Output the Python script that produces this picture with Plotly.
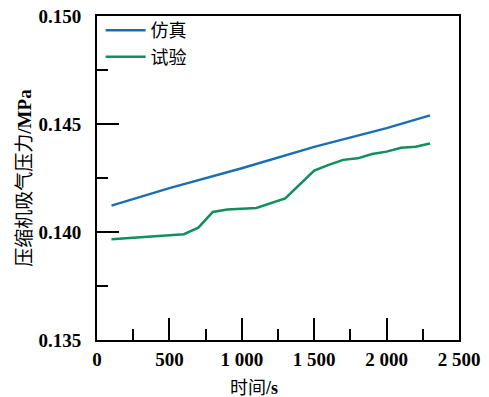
import plotly.graph_objects as go

sim_t = [100, 500, 1000, 1500, 2000, 2300]
sim_p = [0.14122, 0.14203, 0.14295, 0.14394, 0.14481, 0.14540]

exp_t = [100, 600, 700, 800, 900, 1100, 1300, 1500, 1600, 1700, 1800, 1900, 2000, 2100, 2200, 2300]
exp_p = [0.13967, 0.13990, 0.14020, 0.14093, 0.14104, 0.14111, 0.14155, 0.14284, 0.14311, 0.14334,
         0.14341, 0.14361, 0.14372, 0.14390, 0.14395, 0.14410]

x_ticks = [0, 500, 1000, 1500, 2000, 2500]
y_ticks = [0.135, 0.140, 0.145, 0.150]

serif = "Liberation Serif, Times New Roman, Noto Sans CJK SC, serif"
cjk = "Liberation Serif, Noto Sans CJK SC, serif"

fig = go.Figure()
fig.add_trace(go.Scatter(x=sim_t, y=sim_p, mode="lines", name="仿真",
                         line=dict(color="#1a6fb4", width=2.5)))
fig.add_trace(go.Scatter(x=exp_t, y=exp_p, mode="lines", name="试验",
                         line=dict(color="#0e8f5c", width=2.5)))

axis_common = dict(showgrid=False, zeroline=False, showline=True, linecolor="black",
                   linewidth=2, mirror=True, ticks="inside", tickwidth=2, automargin=False,
                   tickcolor="black", tickfont=dict(family=serif, size=19, color="black", weight="bold"))

fig.update_xaxes(range=[0, 2500], tickvals=x_ticks, tickformat=",d", ticklen=22,
                 ticklabelstandoff=1,
                 minor=dict(dtick=250, tick0=0, ticklen=11, tickwidth=2, tickcolor="black", ticks="inside"),
                 **axis_common)
fig.update_yaxes(range=[0.135, 0.150], tickvals=y_ticks, tickformat=".3f", ticklen=22,
                 ticklabelstandoff=10,
                 minor=dict(dtick=0.0025, tick0=0.135, ticklen=11, tickwidth=2, tickcolor="black", ticks="inside"),
                 title=dict(text="压缩机吸气压力<b>/MPa</b>", font=dict(family=cjk, size=19, color="black"), standoff=2),
                 **axis_common)

fig.add_annotation(text="时间<b>/s</b>", xref="paper", yref="paper", x=0.434, y=-0.147,
                   xanchor="center", yanchor="middle", showarrow=False,
                   font=dict(family=cjk, size=18, color="black"))

fig.update_layout(
    width=489, height=397,
    margin=dict(l=97, r=30, t=13, b=57),
    paper_bgcolor="white", plot_bgcolor="white",
    separators=". ",
    showlegend=True,
    legend=dict(x=0.01, y=1.012, xanchor="left", yanchor="top", bgcolor="rgba(0,0,0,0)",
                font=dict(family=cjk, size=18, color="black"), tracegroupgap=0, itemwidth=40),
)

fig.write_html("out.html")
